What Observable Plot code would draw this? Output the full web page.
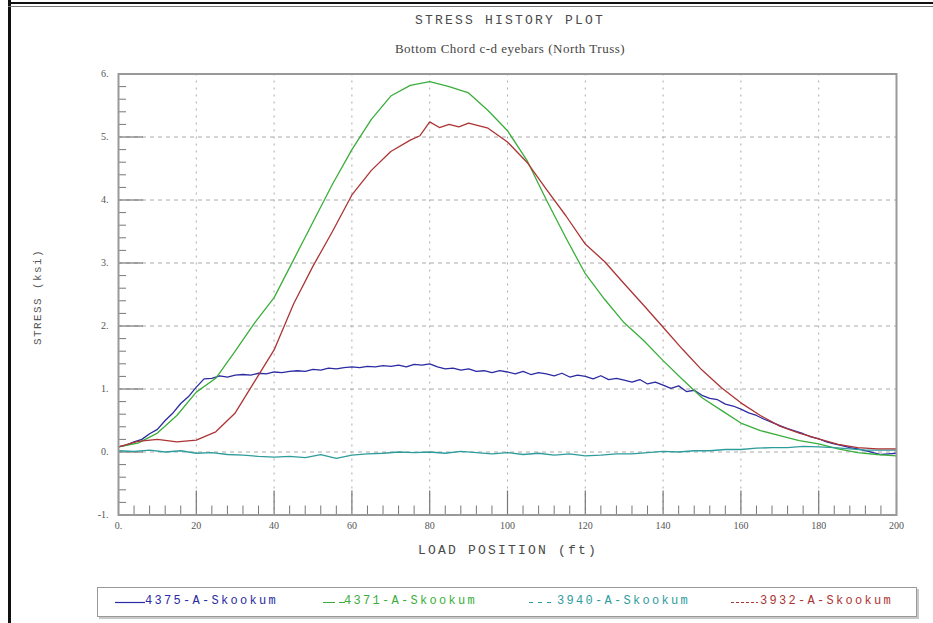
<!DOCTYPE html>
<html><head><meta charset="utf-8">
<script src="https://cdn.jsdelivr.net/npm/d3@7"></script>
<script src="https://cdn.jsdelivr.net/npm/@observablehq/plot@0.6"></script>
<style>
body{margin:0;background:#fff;}
#wrap{position:relative;width:933px;height:623px;overflow:hidden;background:#fff;}
#chart{position:absolute;left:0;top:0;}
.t{position:absolute;white-space:nowrap;color:#555;}
#title{top:13px;left:0;width:1020px;text-align:center;font:13px "Liberation Mono",monospace;letter-spacing:2.2px;color:#4a4a4a;}
#subtitle{top:41px;left:0;width:1020px;text-align:center;font:13px "Liberation Serif",serif;letter-spacing:0.5px;color:#444;}
#xlabel{top:543px;left:0;width:1016px;text-align:center;font:13px "Liberation Mono",monospace;letter-spacing:2.2px;color:#4a4a4a;}
#ylabel{left:38px;top:297px;transform:translate(-50%,-50%) rotate(-90deg);font:11px "Liberation Mono",monospace;letter-spacing:1.4px;}
#leftbar{position:absolute;left:8px;top:0;width:3px;height:623px;background:#111;}
#topbar{position:absolute;left:8px;top:2px;width:925px;height:2px;background:#111;}
#topbar2{position:absolute;left:8px;top:6px;width:925px;height:1px;background:#777;}
#legend{position:absolute;left:97px;top:587px;width:818px;height:28px;border:1px solid #999;box-shadow:2px 2px 0 #c8c8c8;background:#fff;}
.lg{position:absolute;top:6px;font:12px "Liberation Mono",monospace;letter-spacing:2.3px;}
.ls{position:absolute;top:13px;}
</style></head><body>
<div id="wrap">
  <div id="leftbar"></div><div id="topbar"></div><div id="topbar2"></div>
  <div id="chart"></div>
  <div class="t" id="title">STRESS HISTORY PLOT</div>
  <div class="t" id="subtitle">Bottom Chord c-d eyebars (North Truss)</div>
  <div class="t" id="xlabel">LOAD POSITION (ft)</div>
  <div class="t" id="ylabel">STRESS (ksi)</div>
  <div id="legend"></div>
</div>
<script>
// ---- data ----
const seriesNames = ["4375-A-Skookum", "4371-A-Skookum", "3940-A-Skookum", "3932-A-Skookum"];
const seriesColors = ["#2a2aa2", "#3aae3a", "#2f9c9c", "#ac3434"];
const legendDash = [null, "12,4", "4,5", "3,2"];

// 4375 (blue), 2 ft step
const blueX = d3.range(0, 201, 2);
const blueY = [0.08,0.11,0.16,0.20,0.29,0.36,0.50,0.62,0.77,0.88,1.03,1.16,1.17,1.21,1.19,1.22,1.23,1.22,1.25,1.24,
  1.27,1.26,1.28,1.29,1.28,1.31,1.30,1.33,1.32,1.34,1.35,1.34,1.36,1.35,1.37,1.36,1.38,1.35,1.39,1.38,
  1.40,1.35,1.32,1.33,1.30,1.32,1.28,1.29,1.26,1.29,1.27,1.24,1.28,1.23,1.26,1.24,1.21,1.25,1.19,1.22,
  1.20,1.16,1.21,1.15,1.17,1.14,1.11,1.15,1.08,1.11,1.06,1.01,1.05,0.96,0.98,0.90,0.85,0.83,0.76,0.73,
  0.68,0.62,0.58,0.52,0.47,0.42,0.37,0.33,0.29,0.24,0.21,0.16,0.13,0.10,0.07,0.05,0.02,-0.01,-0.04,-0.03,-0.02];

// 4371 (green), 5 ft step
const greenX = d3.range(0, 201, 5);
const greenY = [0.08,0.14,0.30,0.58,0.95,1.17,1.60,2.05,2.45,3.05,3.65,4.25,4.80,5.28,5.65,5.82,5.88,5.80,5.70,5.42,
  5.10,4.63,4.00,3.40,2.83,2.42,2.05,1.77,1.45,1.15,0.86,0.66,0.46,0.34,0.26,0.18,0.13,0.05,-0.01,-0.04,-0.06];

// 3940 (teal), 4 ft step
const tealX = d3.range(0, 201, 4);
const tealY = [0.02,0.01,0.03,0.00,0.02,-0.02,-0.01,-0.04,-0.05,-0.07,-0.08,-0.07,-0.09,-0.04,-0.10,-0.05,-0.03,-0.02,0.00,-0.01,
  0.00,-0.02,0.01,-0.01,-0.03,-0.01,-0.04,-0.02,-0.05,-0.03,-0.06,-0.05,-0.03,-0.03,-0.01,0.01,0.00,0.02,0.02,0.04,
  0.04,0.06,0.07,0.07,0.09,0.08,0.07,0.05,0.03,0.03,0.03];

// 3932 (red)
const redX = [0,5,10,15,20,25,30,35,40,45,50,55,60,65,70,75,77.5,80,82.5,85,87.5,90,92.5,95,100,105,110,115,120,125,130,135,140,145,150,155,160,165,170,175,180,185,190,195,200];
const redY = [0.08,0.17,0.20,0.16,0.19,0.32,0.62,1.12,1.62,2.35,2.95,3.50,4.08,4.47,4.77,4.95,5.02,5.24,5.15,5.20,5.16,5.22,5.18,5.14,4.92,4.60,4.17,3.75,3.30,3.02,2.67,2.33,1.98,1.63,1.30,1.02,0.78,0.58,0.41,0.30,0.21,0.12,0.07,0.05,0.05];

const yTicks = [-1,0,1,2,3,4,5,6];
const xTicks = [0,20,40,60,80,100,120,140,160,180,200];

// ---- build ----
const toRows = (xs, ys) => xs.map((x, i) => ({x, y: ys[i]}));
const series = [toRows(blueX, blueY), toRows(greenX, greenY), toRows(tealX, tealY), toRows(redX, redY)];

const W = 933, H = 575, mL = 118, mR = 37, mT = 73.5, mB = 60.5;
const fw = W - mL - mR, fh = H - mT - mB;
const minorY = d3.range(-10, 61, 2).filter(v => v % 10 !== 0).map(v => v / 10);
const minorX = d3.range(0, 201, 4).filter(v => v % 20 !== 0);

const chart = Plot.plot({
  width: W, height: H,
  marginLeft: mL, marginRight: mR, marginTop: mT, marginBottom: mB,
  x: {domain: [0, 200]},
  y: {domain: [-1, 6]},
  style: {background: "transparent", fontFamily: "Liberation Serif, serif", fontSize: "10px", color: "#555"},
  marks: [
    Plot.ruleY(yTicks.slice(1, -1), {stroke: "#aaa", strokeDasharray: "4,4"}),
    Plot.ruleX(xTicks.slice(1, -1), {stroke: "#aaa", strokeDasharray: "2,5"}),
    Plot.tickY(yTicks, {stroke: "#777", strokeWidth: 1.2, insetRight: fw - 25}),
    Plot.tickY(minorY, {stroke: "#777", strokeWidth: 1, insetRight: fw - 8}),
    Plot.tickX(xTicks, {stroke: "#777", strokeWidth: 1.2, insetTop: fh - 24}),
    Plot.tickX(minorX, {stroke: "#777", strokeWidth: 1, insetTop: fh - 9}),
    ...series.map((d, i) => Plot.line(d, {x: "x", y: "y", stroke: seriesColors[i], strokeWidth: 1.3})),
    Plot.frame({stroke: "#999", strokeWidth: 2}),
    Plot.axisY({ticks: yTicks, tickSize: 0, tickPadding: 10, tickFormat: d => d + ".", label: null}),
    Plot.axisX({ticks: xTicks, tickSize: 0, tickPadding: 7, tickFormat: d => d === 0 ? "0." : String(d), label: null})
  ]
});
document.getElementById("chart").append(chart);

// legend
const legendPos = [[17, 47], [225, 246], [431, 459], [633, 662]];
const lw = [30, 22, 27, 27];
const leg = document.getElementById("legend");
seriesNames.forEach((name, i) => {
  const [lx, tx] = legendPos[i];
  const ns = "http://www.w3.org/2000/svg";
  const s = document.createElementNS(ns, "svg");
  s.setAttribute("class", "ls");
  s.setAttribute("width", lw[i]); s.setAttribute("height", 3);
  s.style.left = lx + "px";
  const l = document.createElementNS(ns, "line");
  l.setAttribute("x1", 0); l.setAttribute("x2", lw[i]); l.setAttribute("y1", 1.5); l.setAttribute("y2", 1.5);
  l.setAttribute("stroke", seriesColors[i]); l.setAttribute("stroke-width", 1.2);
  if (legendDash[i]) l.setAttribute("stroke-dasharray", legendDash[i]);
  s.append(l);
  leg.append(s);
  const t = document.createElement("div");
  t.className = "lg"; t.textContent = name; t.style.left = tx + "px"; t.style.color = seriesColors[i];
  leg.append(t);
});
</script>
</body></html>
